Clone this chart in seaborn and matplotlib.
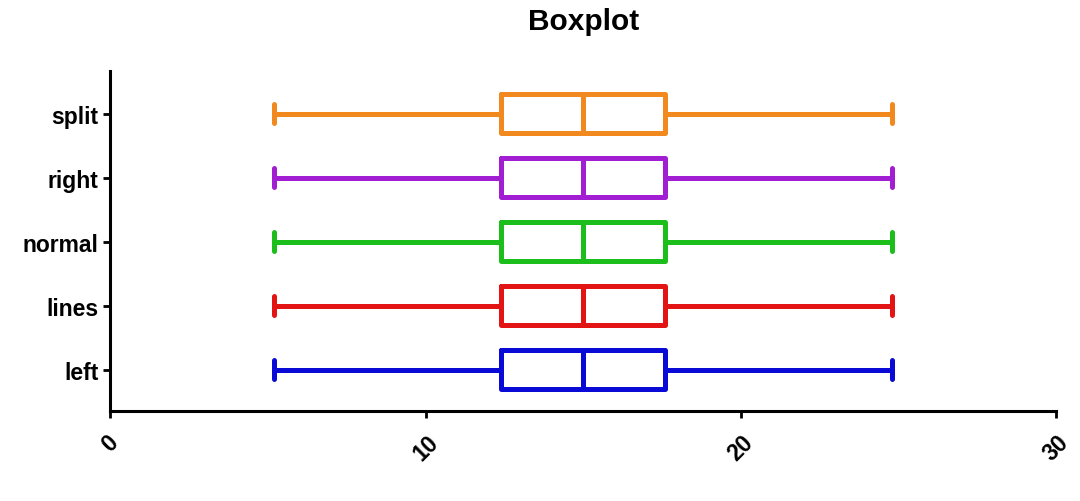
import matplotlib
matplotlib.use("Agg")
import matplotlib.pyplot as plt
import seaborn as sns
import pandas as pd

categorias = ["split", "right", "normal", "lines", "left"]
cores = ["#F2891E", "#A21ED2", "#1CBE1C", "#E21414", "#0A0AD6"]
# valores de cada grupo: min, Q1, mediana, Q3, max
valores = [5.2, 12.4, 15.0, 17.6, 24.8]

linhas = []
for cat in categorias:
    for v in valores:
        linhas.append({"grupo": cat, "valor": v})
df = pd.DataFrame(linhas)

sns.set_style("ticks")
plt.rcParams["font.family"] = ["Liberation Sans", "DejaVu Sans"]
plt.rcParams["text.color"] = "black"
plt.rcParams["xtick.color"] = "black"
plt.rcParams["ytick.color"] = "black"

fig = plt.figure(figsize=(10.8, 5.02), dpi=100)
ax = fig.add_axes([0.102, 0.179, 0.876, 0.678])

sns.boxplot(data=df, x="valor", y="grupo", hue="grupo", order=categorias,
            hue_order=categorias, palette=cores, fill=False, width=0.6,
            whis=(0, 100), linewidth=3.6, capwidths=0.3, legend=False, ax=ax)

ax.set_xlim(0, 30)
ax.set_ylim(4.65, -0.67)
ax.set_xticks([0, 10, 20, 30])
ax.set_xlabel("")
ax.set_ylabel("")
ax.set_title("Boxplot", fontsize=21.5, fontweight="bold", pad=30, color="black")

for lado in ["top", "right"]:
    ax.spines[lado].set_visible(False)
for lado in ["left", "bottom"]:
    ax.spines[lado].set_linewidth(2.2)
    ax.spines[lado].set_color("black")

ax.tick_params(axis="both", width=2, length=5, colors="black")
ax.tick_params(axis="x", pad=9)
plt.setp(ax.get_yticklabels(), fontsize=16.5, fontweight="bold", color="black")
for lbl in ax.get_xticklabels():
    lbl.set_fontsize(16.5)
    lbl.set_fontweight("bold")
    lbl.set_rotation(45)
    lbl.set_ha("center")
    lbl.set_va("top")

fig.savefig("out.png", dpi=100)
plt.close(fig)
